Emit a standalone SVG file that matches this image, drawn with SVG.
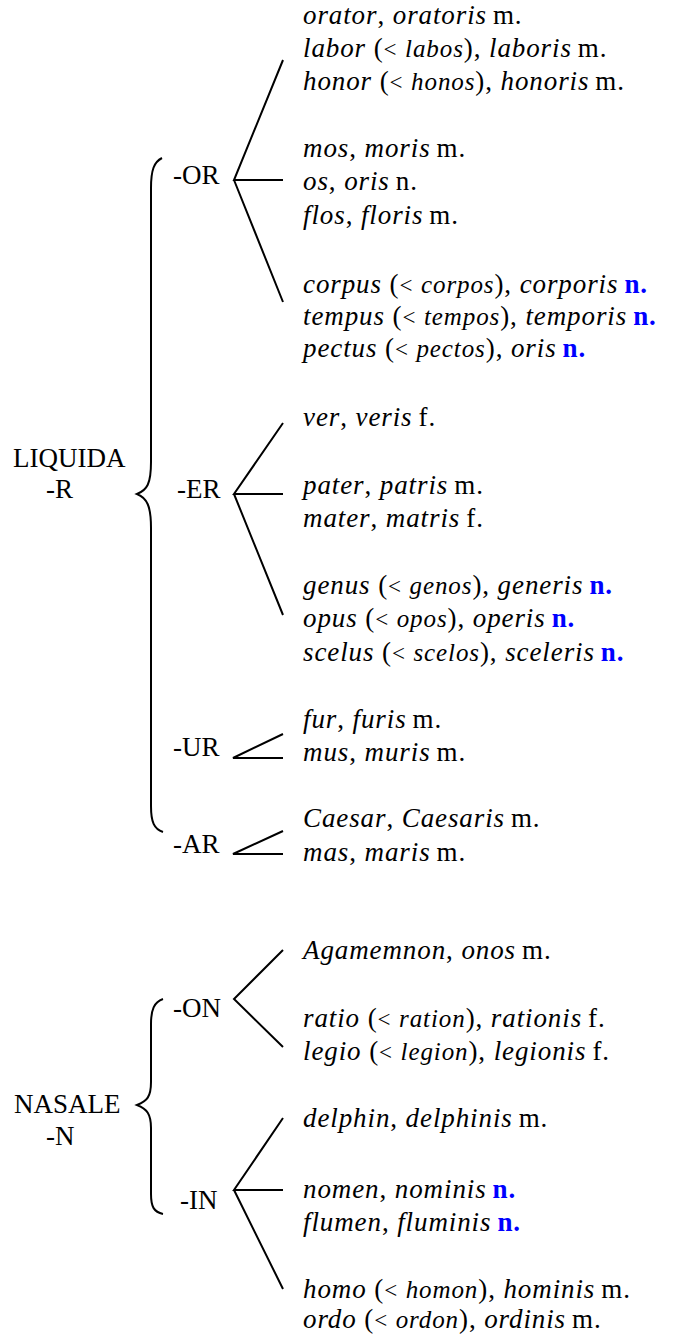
<svg xmlns="http://www.w3.org/2000/svg" width="676" height="1334" viewBox="0 0 676 1334">
<style>
text{font-family:"Liberation Serif","Times New Roman",serif;font-size:27px;fill:#000}
.w{letter-spacing:0.9px}
.i{font-style:italic}
.s{font-style:italic;font-size:25px}
.lt{font-size:23px}
.n{fill:#0000ff;font-weight:bold}
.ln{stroke:#000;stroke-width:2;fill:none}
</style>
<rect width="676" height="1334" fill="#fff"/>
<g id="connectors">
<path class="ln" d="M162,158 C154,162 151,170 151,188 L151,462 C151,484 147,490 137,494 C147,498 151,506 151,528 L151,806 C151,822 154,829 163,832"/>
<path class="ln" d="M163,999 C154,1002 151,1010 151,1024 L151,1082 C151,1097 147,1101 137,1105 C147,1109 151,1114 151,1128 L151,1194 C151,1207 154,1212 163,1214"/>
<path class="ln" d="M283,60 L234,180 L283,180 M234,180 L283,302"/>
<path class="ln" d="M283,423 L234,494 L283,494 M234,494 L283,615"/>
<path class="ln" d="M283,734 L233,758 L283,758"/>
<path class="ln" d="M283,831 L233,854 L283,854"/>
<path class="ln" d="M283,950 L234,999 L283,1047"/>
<path class="ln" d="M283,1118 L234,1190 L283,1190 M234,1190 L283,1289"/>
</g>
<g id="liquida"><text x="13" y="467">LIQUIDA</text><text x="46" y="498">-R</text></g>
<g id="nasale"><text x="14" y="1113">NASALE</text><text x="46" y="1145">-N</text></g>
<g id="or"><text x="173" y="184">-OR</text></g>
<g id="er"><text x="177" y="498">-ER</text></g>
<g id="ur"><text x="173" y="756">-UR</text></g>
<g id="ar"><text x="173" y="853">-AR</text></g>
<g id="on"><text x="173" y="1017">-ON</text></g>
<g id="in"><text x="180" y="1209">-IN</text></g>
<g id="or-words" class="w">
<text x="303" y="24"><tspan class="i">orator</tspan>, <tspan class="i">oratoris</tspan><tspan dx="6">m.</tspan></text>
<text x="303" y="57"><tspan class="i">labor</tspan> (<tspan class="lt">&lt;</tspan> <tspan class="s">labos</tspan>), <tspan class="i">laboris</tspan><tspan dx="6">m.</tspan></text>
<text x="303" y="90"><tspan class="i">honor</tspan> (<tspan class="lt">&lt;</tspan> <tspan class="s">honos</tspan>), <tspan class="i">honoris</tspan><tspan dx="6">m.</tspan></text>
<text x="303" y="157"><tspan class="i">mos</tspan>, <tspan class="i">moris</tspan><tspan dx="6">m.</tspan></text>
<text x="303" y="190"><tspan class="i">os</tspan>, <tspan class="i">oris</tspan><tspan dx="6">n.</tspan></text>
<text x="303" y="224"><tspan class="i">flos</tspan>, <tspan class="i">floris</tspan><tspan dx="6">m.</tspan></text>
<text x="303" y="293"><tspan class="i">corpus</tspan> (<tspan class="lt">&lt;</tspan> <tspan class="s">corpos</tspan>), <tspan class="i">corporis</tspan><tspan class="n" dx="6">n.</tspan></text>
<text x="303" y="325"><tspan class="i">tempus</tspan> (<tspan class="lt">&lt;</tspan> <tspan class="s">tempos</tspan>), <tspan class="i">temporis</tspan><tspan class="n" dx="6">n.</tspan></text>
<text x="303" y="357"><tspan class="i">pectus</tspan> (<tspan class="lt">&lt;</tspan> <tspan class="s">pectos</tspan>), <tspan class="i">oris</tspan><tspan class="n" dx="6">n.</tspan></text>
</g>
<g id="er-words" class="w">
<text x="303" y="426"><tspan class="i">ver</tspan>, <tspan class="i">veris</tspan><tspan dx="6">f.</tspan></text>
<text x="303" y="494"><tspan class="i">pater</tspan>, <tspan class="i">patris</tspan><tspan dx="6">m.</tspan></text>
<text x="303" y="527"><tspan class="i">mater</tspan>, <tspan class="i">matris</tspan><tspan dx="6">f.</tspan></text>
<text x="303" y="594"><tspan class="i">genus</tspan> (<tspan class="lt">&lt;</tspan> <tspan class="s">genos</tspan>), <tspan class="i">generis</tspan><tspan class="n" dx="6">n.</tspan></text>
<text x="303" y="627"><tspan class="i">opus</tspan> (<tspan class="lt">&lt;</tspan> <tspan class="s">opos</tspan>), <tspan class="i">operis</tspan><tspan class="n" dx="6">n.</tspan></text>
<text x="303" y="661"><tspan class="i">scelus</tspan> (<tspan class="lt">&lt;</tspan> <tspan class="s">scelos</tspan>), <tspan class="i">sceleris</tspan><tspan class="n" dx="6">n.</tspan></text>
</g>
<g id="ur-words" class="w">
<text x="303" y="728"><tspan class="i">fur</tspan>, <tspan class="i">furis</tspan><tspan dx="6">m.</tspan></text>
<text x="303" y="761"><tspan class="i">mus</tspan>, <tspan class="i">muris</tspan><tspan dx="6">m.</tspan></text>
</g>
<g id="ar-words" class="w">
<text x="303" y="827"><tspan class="i">Caesar</tspan>, <tspan class="i">Caesaris</tspan><tspan dx="6">m.</tspan></text>
<text x="303" y="861"><tspan class="i">mas</tspan>, <tspan class="i">maris</tspan><tspan dx="6">m.</tspan></text>
</g>
<g id="on-words" class="w">
<text x="303" y="959"><tspan class="i">Agamemnon</tspan>, <tspan class="i">onos</tspan><tspan dx="6">m.</tspan></text>
<text x="303" y="1027"><tspan class="i">ratio</tspan> (<tspan class="lt">&lt;</tspan> <tspan class="s">ration</tspan>), <tspan class="i">rationis</tspan><tspan dx="6">f.</tspan></text>
<text x="303" y="1060"><tspan class="i">legio</tspan> (<tspan class="lt">&lt;</tspan> <tspan class="s">legion</tspan>), <tspan class="i">legionis</tspan><tspan dx="6">f.</tspan></text>
</g>
<g id="in-words" class="w">
<text x="303" y="1127"><tspan class="i">delphin</tspan>, <tspan class="i">delphinis</tspan><tspan dx="6">m.</tspan></text>
<text x="303" y="1198"><tspan class="i">nomen</tspan>, <tspan class="i">nominis</tspan><tspan class="n" dx="6">n.</tspan></text>
<text x="303" y="1231"><tspan class="i">flumen</tspan>, <tspan class="i">fluminis</tspan><tspan class="n" dx="6">n.</tspan></text>
<text x="303" y="1298"><tspan class="i">homo</tspan> (<tspan class="lt">&lt;</tspan> <tspan class="s">homon</tspan>), <tspan class="i">hominis</tspan><tspan dx="6">m.</tspan></text>
<text x="303" y="1328"><tspan class="i">ordo</tspan> (<tspan class="lt">&lt;</tspan> <tspan class="s">ordon</tspan>), <tspan class="i">ordinis</tspan><tspan dx="6">m.</tspan></text>
</g>
</svg>
